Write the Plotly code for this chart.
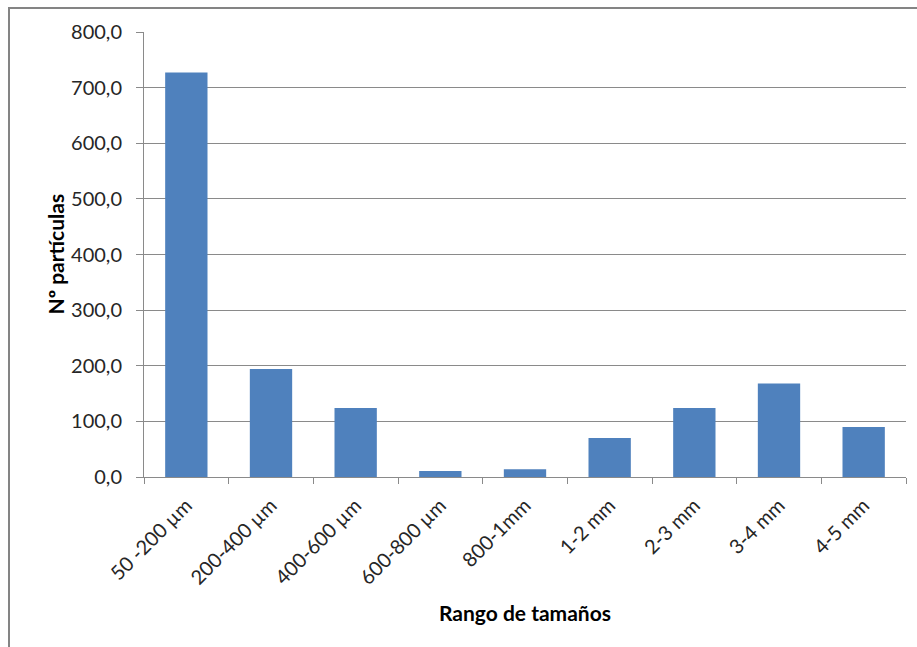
import plotly.graph_objects as go

categories = ["50 -200 µm", "200-400 µm", "400-600 µm", "600-800 µm", "800-1mm",
              "1-2 mm", "2-3 mm", "3-4 mm", "4-5 mm"]
values = [727, 194, 124, 11, 14, 70, 124, 168, 90]
y_ticks = [0, 100, 200, 300, 400, 500, 600, 700, 800]

W, H = 917, 647
L, R, T, B = 144, 11, 32, 170
pw, ph = W - L - R, H - T - B

FONT = "Lato, 'Open Sans', sans-serif"
GRAY = "#8a8a8a"

fig = go.Figure(go.Bar(x=categories, y=values, marker=dict(color="#4F81BD", line=dict(width=0))))

fig.update_layout(
    width=W, height=H,
    margin=dict(l=L, r=R, t=T, b=B, autoexpand=False),
    paper_bgcolor="white", plot_bgcolor="white",
    separators=",.",
    bargap=0.5,
    showlegend=False,
    font=dict(family=FONT, color="#262626"),
)
fig.update_yaxes(
    range=[0, 800], tickvals=y_ticks, tickformat=".1f",
    showgrid=True, gridcolor=GRAY, gridwidth=1,
    showline=True, linecolor=GRAY, linewidth=1,
    ticks="outside", ticklen=7, tickcolor=GRAY,
    ticklabelstandoff=10,
    tickfont=dict(size=20, family=FONT, color="#262626"),
    zeroline=False, automargin=False,
)
fig.update_xaxes(
    showline=True, linecolor=GRAY, linewidth=1,
    ticks="outside", ticklen=6, tickcolor=GRAY, tickson="boundaries",
    tickangle=-45, ticklabelstandoff=8,
    tickfont=dict(size=20, family=FONT, color="#262626"),
    automargin=False,
)
fig.add_annotation(
    text="<b>Rango de tamaños</b>", xref="paper", yref="paper",
    x=0.5, y=(H - B - 612) / ph, xanchor="center", yanchor="middle", showarrow=False,
    font=dict(size=21, family=FONT, color="#000000"),
)
fig.add_annotation(
    text="<b>Nº partículas</b>", xref="paper", yref="paper",
    x=(55 - L) / pw, y=0.5, xanchor="center", yanchor="middle",
    textangle=-90, showarrow=False,
    font=dict(size=21, family=FONT, color="#000000"),
)
fig.add_shape(
    type="rect", xref="paper", yref="paper",
    x0=(9 - L) / pw, x1=(925 - L) / pw,
    y0=(H - B - 660) / ph, y1=(H - B - 8) / ph,
    line=dict(color="#848484", width=2), fillcolor="rgba(0,0,0,0)",
)

fig.write_html("out.html")
